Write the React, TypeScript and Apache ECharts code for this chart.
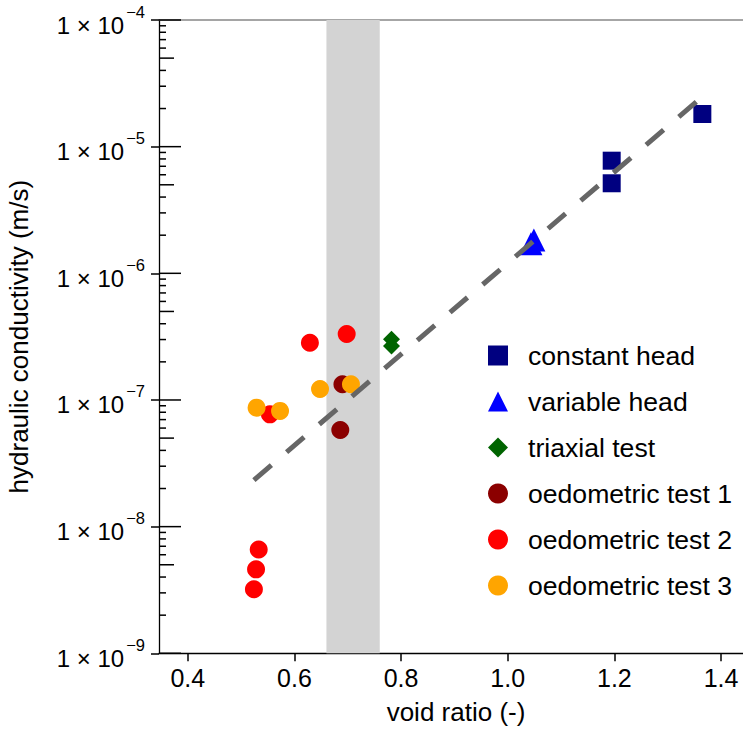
import React, { useEffect, useRef } from "react";
import * as echarts from "echarts";

const FONT = '"Liberation Sans", Arial, Helvetica, sans-serif';

// ---- data (void ratio, hydraulic conductivity m/s) ----
const constantHeadX = [1.365, 1.195, 1.195];
const constantHeadY = [1.81e-5, 7.75e-6, 5.14e-6];

const variableHeadX = [1.049, 1.0435];
const variableHeadY = [1.83e-6, 1.71e-6];

const triaxialX = [0.782, 0.782];
const triaxialY = [3.01e-7, 2.67e-7];

const oedo1X = [0.69, 0.686];
const oedo1Y = [1.33e-7, 5.8e-8];

const oedo2X = [0.629, 0.698, 0.554, 0.533, 0.528, 0.524];
const oedo2Y = [2.83e-7, 3.32e-7, 7.7e-8, 6.6e-9, 4.6e-9, 3.2e-9];

const oedo3X = [0.529, 0.573, 0.648, 0.706];
const oedo3Y = [8.7e-8, 8.2e-8, 1.22e-7, 1.33e-7];

const fitX = [0.524, 1.367];
const fitY = [2.33e-8, 2.52e-5];

const bandX = [0.66, 0.76];

// ---- axes ----
const X_MIN = 0.346;
const X_MAX = 1.46;
const X_TICKS = [0.4, 0.6, 0.8, 1.0, 1.2, 1.4];
const Y_MIN = 1e-9;
const Y_MAX = 1e-4;
const Y_DECADES = [-9, -8, -7, -6, -5, -4];
const MINOR_MULT = [2, 3, 4, 5, 6, 7, 8, 9];

const zip = (xs: number[], ys: number[]) => xs.map((x, i) => [x, ys[i]]);

function buildTickData() {
  const out: number[][] = [];
  Y_DECADES.forEach((e) => {
    out.push([X_MIN, Math.pow(10, e), 22]);
    if (e < -4) {
      MINOR_MULT.forEach((m) => {
        out.push([X_MIN, m * Math.pow(10, e), m === 5 ? 15 : 7]);
      });
    }
  });
  return out;
}

export default function App() {
  const ref = useRef<HTMLDivElement>(null);

  useEffect(() => {
    if (!ref.current) return;
    const chart = echarts.init(ref.current, undefined, { renderer: "svg" });

    const scatter = (name: string, xs: number[], ys: number[], color: string, symbol: string, size: any, z = 3) => ({
      name,
      type: "scatter",
      data: zip(xs, ys),
      symbol,
      symbolSize: size,
      itemStyle: { color, opacity: 1 },
      z,
      emphasis: { disabled: true },
    });

    const option: any = {
      animation: false,
      backgroundColor: "#ffffff",
      textStyle: { fontFamily: FONT },
      grid: {
        left: 159,
        top: 20,
        width: 594,
        height: 633.3,
        outerBoundsMode: "none",
        containLabel: false,
      },
      xAxis: [
        {
          type: "value",
          min: X_MIN,
          max: X_MAX,
          name: "void ratio (-)",
          nameLocation: "middle",
          nameGap: 46,
          nameTextStyle: { fontSize: 26, color: "#000", fontFamily: FONT },
          axisLine: { show: true, onZero: false, lineStyle: { color: "#000", width: 1.3 } },
          axisTick: {
            show: true,
            inside: false,
            length: 8,
            customValues: X_TICKS,
            lineStyle: { color: "#000", width: 1.5 },
          },
          axisLabel: {
            show: true,
            customValues: X_TICKS,
            formatter: (v: number) => v.toFixed(1),
            fontSize: 25,
            color: "#000",
            fontFamily: FONT,
            margin: 12,
          },
          splitLine: { show: false },
        },
        {
          type: "value",
          position: "top",
          min: X_MIN,
          max: X_MAX,
          axisLine: { show: true, onZero: false, lineStyle: { color: "#888", width: 1.5 } },
          axisTick: { show: false },
          axisLabel: { show: false },
          splitLine: { show: false },
        },
      ],
      yAxis: {
        type: "log",
        logBase: 10,
        min: Y_MIN,
        max: Y_MAX,
        name: "hydraulic conductivity (m/s)",
        nameLocation: "middle",
        nameGap: 127,
        nameRotate: 90,
        nameTextStyle: { fontSize: 26, color: "#000", fontFamily: FONT },
        axisLine: { show: true, lineStyle: { color: "#000", width: 1.3 } },
        axisTick: { show: true, inside: false, length: 8, lineStyle: { color: "#000", width: 1.5 } },
        minorTick: { show: false },
        splitLine: { show: false },
        axisLabel: {
          margin: 14,
          formatter: (v: number) => `{b|1 × 10}{s|−${-Math.round(Math.log10(v))}}`,
          rich: {
            b: { fontSize: 24, color: "#000", fontFamily: FONT, padding: [10, 0, 0, 0] },
            s: { fontSize: 16.5, color: "#000", fontFamily: FONT, verticalAlign: "top", padding: [0, 0, 0, 2] },
          },
        },
      },
      legend: {
        orient: "vertical",
        left: 488,
        top: 342,
        padding: 0,
        itemWidth: 20,
        itemHeight: 20,
        itemGap: 19,
        selectedMode: false,
        textStyle: { fontSize: 26.6, color: "#000", fontFamily: FONT, padding: [0, 0, 0, 15] },
        data: [
          "constant head",
          "variable head",
          "triaxial test",
          "oedometric test 1",
          "oedometric test 2",
          "oedometric test 3",
        ],
      },
      series: [
        {
          name: "ticks",
          type: "custom",
          silent: true,
          clip: false,
          z: 1,
          data: buildTickData(),
          encode: { x: 0, y: 1 },
          renderItem: (params: any, api: any) => {
            const p = api.coord([api.value(0), api.value(1)]);
            const len = api.value(2);
            return {
              type: "line",
              shape: { x1: p[0], y1: p[1], x2: p[0] + len, y2: p[1] },
              style: { stroke: "#000", lineWidth: 1.5 },
            };
          },
          markArea: {
            silent: true,
            itemStyle: { color: "#d3d3d3", opacity: 1 },
            label: { show: false },
            data: [[{ xAxis: bandX[0] }, { xAxis: bandX[1] }]],
          },
        },
        scatter("constant head", constantHeadX, constantHeadY, "#000080", "rect", 18),
        scatter("variable head", variableHeadX, variableHeadY, "#0000ff", "triangle", [23, 23]),
        scatter("triaxial test", triaxialX, triaxialY, "#006400", "diamond", 17),
        scatter("oedometric test 1", oedo1X, oedo1Y, "#8b0000", "circle", 18),
        scatter("oedometric test 2", oedo2X, oedo2Y, "#ff0000", "circle", 18),
        scatter("oedometric test 3", oedo3X, oedo3Y, "#ffa500", "circle", 18),
        {
          name: "fit",
          type: "line",
          data: zip(fitX, fitY),
          showSymbol: false,
          symbol: "none",
          silent: true,
          z: 10,
          lineStyle: { color: "#666666", width: 5, type: [23, 20], cap: "butt" },
        },
      ],
    };

    chart.setOption(option);
    return () => chart.dispose();
  }, []);

  return (
    <div style={{ position: "absolute", left: 0, top: 0, width: 743, height: 729, overflow: "hidden", background: "#fff" }}>
      <div ref={ref} style={{ width: 760, height: 729 }} />
    </div>
  );
}
